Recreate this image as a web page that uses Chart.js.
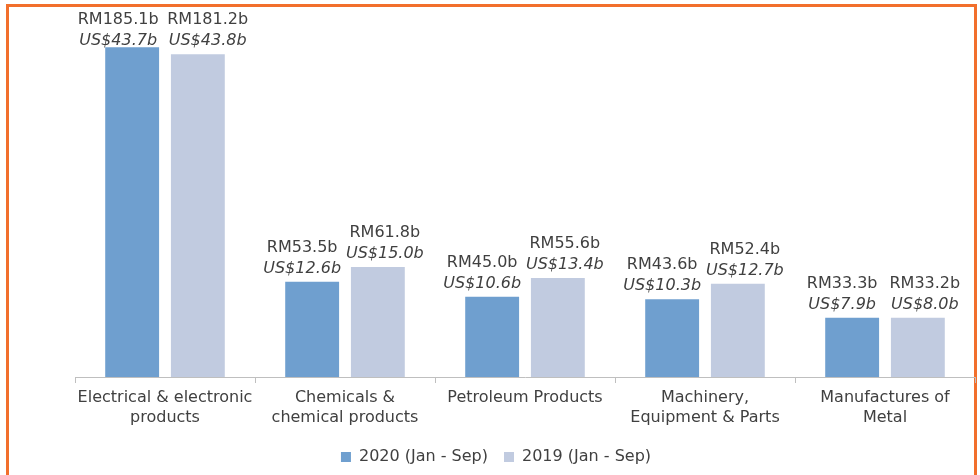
<!DOCTYPE html>
<html>
<head>
<meta charset="utf-8">
<script src="https://cdn.jsdelivr.net/npm/chart.js@4"></script>
<style>
  body { margin: 0; background: #fff; }
  #wrap { position: relative; width: 980px; height: 475px; overflow: hidden; }
  #frame { position: absolute; left: 6px; top: 4px; width: 965px; height: 520px; border: 3px solid #F26F2C; }
  canvas { position: absolute; left: 0; top: 0; }
</style>
</head>
<body>
<div id="wrap">
  <div id="frame"></div>
  <canvas id="myChart" width="980" height="475"></canvas>
</div>
<script>
const categories = [
  ['Electrical & electronic', 'products'],
  ['Chemicals &', 'chemical products'],
  'Petroleum Products',
  ['Machinery,', 'Equipment & Parts'],
  ['Manufactures of', 'Metal']
];
const seriesNames = ['2020 (Jan - Sep)', '2019 (Jan - Sep)'];
const rm2020 = [185.1, 53.5, 45.0, 43.6, 33.3];
const rm2019 = [181.2, 61.8, 55.6, 52.4, 33.2];
const us2020 = [43.7, 12.6, 10.6, 10.3, 7.9];
const us2019 = [43.8, 15.0, 13.4, 12.7, 8.0];
const usValues = [us2020, us2019];

const FONT = '"DejaVu Sans", sans-serif';
const TEXT = '#404040';
const labelShift = [-10, 7]; // labels sit a little apart from the bar centres

// labels above bars: RM on top, US$ in italics underneath
const valueLabels = {
  id: 'valueLabels',
  afterDatasetsDraw(chart) {
    const ctx = chart.ctx;
    ctx.save();
    ctx.fillStyle = TEXT;
    ctx.textAlign = 'center';
    ctx.textBaseline = 'alphabetic';
    chart.data.datasets.forEach((ds, i) => {
      chart.getDatasetMeta(i).data.forEach((bar, j) => {
        const x = bar.x + labelShift[i] * (j === 0 ? 1.4 : 1);
        const base = Math.max(bar.y - 9, 45);
        ctx.font = '16px ' + FONT;
        ctx.fillText('RM' + ds.data[j].toFixed(1) + 'b', x, base - 21);
        ctx.font = 'italic 16px ' + FONT;
        ctx.fillText('US$' + usValues[i][j].toFixed(1) + 'b', x, base);
      });
    });
    ctx.restore();
  }
};

new Chart(document.getElementById('myChart').getContext('2d'), {
  type: 'bar',
  data: {
    labels: categories,
    datasets: [
      { label: seriesNames[0], data: rm2020, backgroundColor: '#6F9FCF' },
      { label: seriesNames[1], data: rm2019, backgroundColor: '#C1CBE0' }
    ]
  },
  options: {
    responsive: false,
    animation: false,
    categoryPercentage: 0.73,
    barPercentage: 0.82,
    layout: { padding: { left: 17, right: 5, top: 10, bottom: 0 } },
    scales: {
      x: {
        grid: { display: true, drawOnChartArea: false, drawTicks: true, tickLength: 6, color: '#BFBFBF' },
        border: { color: '#BFBFBF' },
        ticks: { color: TEXT, font: { family: FONT, size: 16, lineHeight: 1.25 }, maxRotation: 0, padding: 5 }
      },
      y: {
        min: 0, max: 206,
        ticks: { display: false },
        grid: { display: false },
        border: { display: false },
        afterFit(scale) { scale.width = 58; }
      }
    },
    plugins: {
      legend: {
        position: 'bottom',
        labels: { color: TEXT, font: { family: FONT, size: 16 }, boxWidth: 10, boxHeight: 10, padding: 16 }
      },
      tooltip: { enabled: false }
    }
  },
  plugins: [valueLabels]
});
</script>
</body>
</html>
